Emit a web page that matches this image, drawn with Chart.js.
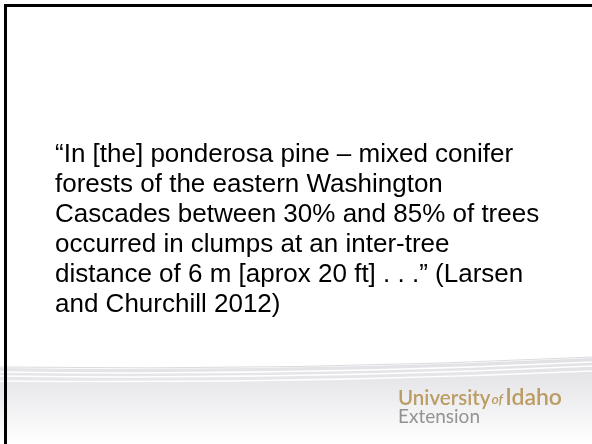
<!DOCTYPE html>
<html>
<head>
<meta charset="utf-8">
<script src="https://cdn.jsdelivr.net/npm/chart.js@4/dist/chart.umd.min.js"></script>
<style>
  html, body { margin: 0; padding: 0; background: #fff; }
  #slide { display: block; }
</style>
</head>
<body>
<canvas id="slide" width="592" height="444"></canvas>
<script>
// slide text
var quoteLines = [
  '\u201CIn [the] ponderosa pine \u2013 mixed conifer',
  'forests of the eastern Washington',
  'Cascades between 30% and 85% of trees',
  'occurred in clumps at an inter-tree',
  'distance of 6 m [aprox 20 ft] . . .\u201D (Larsen',
  'and Churchill 2012)'
];
var logoTop = ['University', 'of', 'Idaho'];
var logoBottom = 'Extension';

var slideDecor = {
  id: 'slideDecor',
  beforeDraw: function (chart) {
    var c = chart.ctx;
    var w = chart.width, h = chart.height;
    c.save();
    c.fillStyle = '#ffffff';
    c.fillRect(0, 0, w, h);

    // grey band along the bottom
    var g = c.createLinearGradient(0, 360, 0, 444);
    g.addColorStop(0, '#e0e0e5');
    g.addColorStop(0.5, '#efeff1');
    g.addColorStop(1, '#ffffff');
    c.fillStyle = g;
    c.beginPath();
    c.moveTo(0, 368);
    c.quadraticCurveTo(300, 372, 592, 358);
    c.lineTo(592, 444);
    c.lineTo(0, 444);
    c.closePath();
    c.fill();

    // swoosh lines
    c.strokeStyle = 'rgba(255,255,255,0.95)';
    c.lineWidth = 1.5;
    [[372, 376, 362], [376, 380, 366], [381, 384, 371]].forEach(function (s) {
      c.beginPath();
      c.moveTo(0, s[0]);
      c.quadraticCurveTo(300, s[1], 592, s[2]);
      c.stroke();
    });
    c.strokeStyle = 'rgba(195,195,200,0.6)';
    c.lineWidth = 1;
    c.beginPath();
    c.moveTo(0, 367);
    c.quadraticCurveTo(300, 371, 592, 357);
    c.stroke();

    // frame
    c.fillStyle = '#000000';
    c.fillRect(4, 4, 588, 3);
    c.fillRect(4, 4, 3, 440);
    c.restore();
  },
  afterDraw: function (chart) {
    var c = chart.ctx;
    c.save();
    c.textBaseline = 'alphabetic';
    c.textAlign = 'left';
    var x = 398, y = 405;
    c.fillStyle = '#bb9c64';
    c.font = '600 20.5px Lato';
    c.fillText(logoTop[0], x, y);
    x += c.measureText(logoTop[0]).width + 1;
    c.font = 'italic 600 14px Lato';
    c.fillText(logoTop[1], x, y - 1);
    x += c.measureText(logoTop[1]).width + 2;
    c.font = '600 23px Lato';
    c.fillText(logoTop[2], x, y);
    c.fillStyle = '#939393';
    c.font = '400 19px Lato';
    c.fillText(logoBottom, 398, 423);
    c.restore();
  }
};

new Chart(document.getElementById('slide').getContext('2d'), {
  type: 'line',
  data: { labels: [], datasets: [] },
  options: {
    responsive: false,
    animation: false,
    events: [],
    layout: { padding: { left: 55, top: 140, right: 0, bottom: 0 } },
    scales: { x: { display: false }, y: { display: false } },
    plugins: {
      legend: { display: false },
      tooltip: { enabled: false },
      title: {
        display: true,
        text: quoteLines,
        align: 'start',
        color: '#000000',
        padding: 0,
        font: { family: 'Liberation Sans, Arial, sans-serif', size: 26, weight: 'normal', lineHeight: 1.15 }
      }
    }
  },
  plugins: [slideDecor]
});
</script>
</body>
</html>
